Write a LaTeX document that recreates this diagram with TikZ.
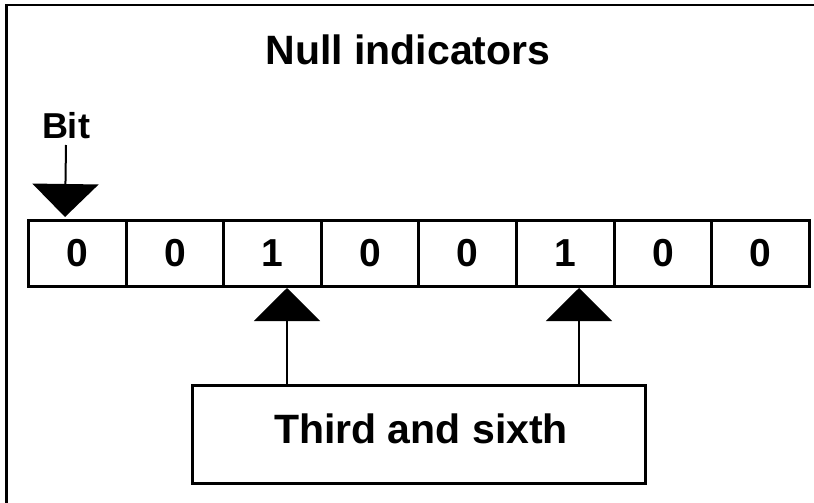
\documentclass[tikz,border=0pt]{standalone}
\usepackage{fontspec}
\setmainfont{Liberation Sans}
\usetikzlibrary{arrows.meta}
\tikzset{
  cell/.style={draw, line width=3pt, minimum width=97.6pt, minimum height=66pt, inner sep=0pt, anchor=north west, font=\fontsize{39}{42}\selectfont\bfseries},
  lbl/.style={inner sep=0pt, anchor=base},
  stem/.style={line width=2pt, -{Triangle[width=66pt,length=33pt]}},
  frame/.style={line width=2.5pt},
  tbox/.style={draw, line width=3pt, inner sep=0pt, anchor=north west, minimum width=453pt, minimum height=98pt}
}
\begin{document}
\begin{tikzpicture}[x=1pt,y=-1pt]
\useasboundingbox (0,0) rectangle (814,503);
\draw[frame] (6.5,505) -- (6.5,5) -- (816,5);
\node[lbl, font=\fontsize{41}{44}\selectfont\bfseries] (title) at (408,65) {Null indicators};
\node[lbl, font=\fontsize{36}{40}\selectfont\bfseries] (bit) at (66,138) {Bit};
\foreach \d [count=\i] in {0,0,1,0,0,1,0,0} {
  \node[cell] (c\i) at ({27+(\i-1)*97.6},219) {\d};
}
\node[tbox] (box) at (191,384) {};
\node[lbl, font=\fontsize{41}{44}\selectfont\bfseries] (boxtext) at (421,443) {Third and sixth};
\coordinate (a1) at (65,217);
\coordinate (a3) at (287,288);
\coordinate (a6) at (579,288);
\draw[stem] (bit.south |- 0,145) -- (a1);
\draw[stem] (box.north -| a3) -- (a3);
\draw[stem] (box.north -| a6) -- (a6);
\end{tikzpicture}
\end{document}
